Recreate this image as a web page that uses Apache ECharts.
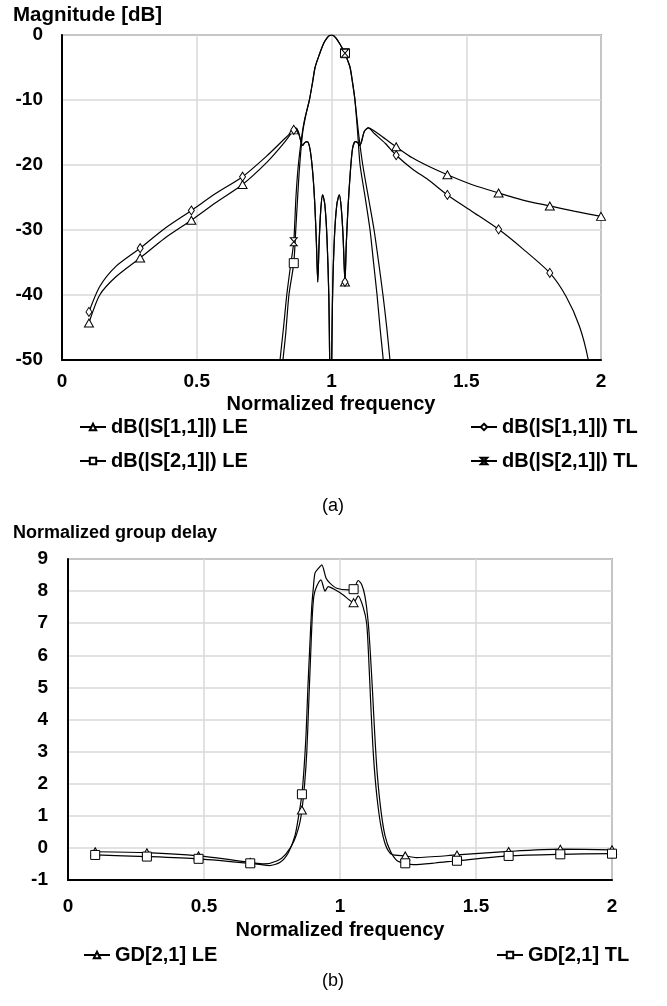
<!DOCTYPE html>
<html><head><meta charset="utf-8">
<script src="https://cdn.jsdelivr.net/npm/echarts@6/dist/echarts.min.js"></script>
<style>html,body{margin:0;padding:0;background:#fff}#c{width:667px;height:1006px}</style>
</head><body><div id="c"></div>
<script>
// ---------- data ----------
const markerF = [0.1,0.29,0.48,0.67,0.86,1.05,1.24,1.43,1.62,1.81,2.0];
const xTicks = [0,0.5,1,1.5,2];

// S11 (dB) pieces
const s11LeLeft = [[0.1,-44.3],[0.14,-40],[0.2,-37.2],[0.29,-34.3],[0.38,-31.3],[0.48,-28.5],[0.57,-25.8],[0.67,-23],[0.76,-19.6],[0.82,-16.8],[0.86,-14.6]];
const s11TlLeft = [[0.1,-42.6],[0.14,-38.7],[0.2,-35.6],[0.29,-32.8],[0.38,-29.8],[0.48,-27],[0.57,-24.4],[0.67,-21.8],[0.76,-18.6],[0.82,-16.2],[0.86,-14.6]];
const s11Band = [[0.867,-14.3],[0.876,-14.8],[0.886,-16.3],[0.893,-17.0],[0.9,-16.6],[0.91,-16.4],[0.92,-17.5],[0.93,-21],[0.938,-26],[0.944,-32],[0.949,-38],[0.954,-32],[0.96,-27],[0.967,-24.6],[0.975,-26],[0.983,-31],[0.99,-40],[0.997,-60],[1.004,-40],[1.011,-31],[1.02,-26],[1.029,-24.6],[1.036,-26.5],[1.043,-31],[1.05,-38],[1.055,-32],[1.062,-26],[1.07,-21],[1.078,-17.5],[1.088,-16.4],[1.098,-16.6],[1.105,-17.0],[1.112,-16.3],[1.122,-14.8],[1.137,-14.3]];
const s11LeRight = [[1.16,-14.8],[1.2,-16],[1.24,-17.2],[1.3,-18.9],[1.36,-20.2],[1.43,-21.5],[1.52,-23],[1.62,-24.3],[1.71,-25.4],[1.81,-26.3],[1.9,-27.1],[2.0,-27.9]];
const s11TlRight = [[1.16,-15.2],[1.2,-16.7],[1.24,-18.5],[1.3,-20.6],[1.36,-22.3],[1.43,-24.6],[1.52,-27.1],[1.62,-29.9],[1.71,-32.9],[1.81,-36.6],[1.87,-40.2],[1.92,-44.8],[1.953,-50],[1.97,-55]];

// S21 (dB)
const s21Le = [[0.81,-56],[0.82,-50],[0.83,-46],[0.842,-40],[0.86,-35.1],[0.868,-29.5],[0.875,-24.5],[0.882,-20],[0.893,-15],[0.905,-12.3],[0.918,-10],[0.93,-7.2],[0.939,-5],[0.955,-3],[0.972,-1.2],[0.985,-0.35],[0.993,-0.08],[1.0,0],[1.008,-0.1],[1.016,-0.45],[1.03,-1.3],[1.05,-2.8],[1.06,-3.9],[1.069,-5],[1.078,-7.3],[1.087,-10],[1.097,-15],[1.106,-20],[1.125,-25],[1.143,-30],[1.156,-35],[1.169,-40],[1.18,-45],[1.192,-50],[1.2,-55]];
const s21Tl = [[0.795,-56],[0.809,-50],[0.822,-45],[0.834,-40],[0.848,-35.5],[0.86,-31.8],[0.868,-25],[0.877,-20],[0.89,-15.5],[0.9,-13],[0.918,-10],[0.93,-7.2],[0.939,-5],[0.955,-3],[0.972,-1.2],[0.985,-0.35],[0.993,-0.08],[1.0,0],[1.008,-0.1],[1.016,-0.45],[1.03,-1.3],[1.05,-2.8],[1.06,-3.9],[1.069,-5],[1.078,-7.3],[1.087,-10],[1.1,-15],[1.116,-20],[1.137,-25],[1.158,-30],[1.175,-35],[1.191,-40],[1.205,-45],[1.217,-50],[1.23,-55]];

// Group delay
const gdLe = [[0.1,-0.12],[0.29,-0.15],[0.48,-0.25],[0.67,-0.45],[0.72,-0.5],[0.77,-0.4],[0.8,-0.2],[0.83,0.2],[0.85,0.7],[0.86,1.18],[0.87,2.0],[0.878,3.0],[0.885,4.5],[0.892,6.0],[0.898,7.2],[0.904,7.85],[0.914,8.14],[0.93,8.35],[0.945,8.0],[0.957,8.14],[0.982,8.04],[1.012,7.88],[1.03,7.75],[1.05,7.64],[1.067,7.85],[1.085,7.5],[1.098,7.0],[1.105,6.0],[1.113,4.5],[1.12,3.3],[1.127,2.4],[1.137,1.5],[1.15,0.7],[1.167,0.1],[1.19,-0.2],[1.24,-0.25],[1.28,-0.3],[1.43,-0.22],[1.62,-0.11],[1.81,-0.04],[2.0,-0.06]];
const gdTl = [[0.1,-0.22],[0.29,-0.27],[0.48,-0.34],[0.67,-0.48],[0.74,-0.55],[0.78,-0.45],[0.81,-0.15],[0.835,0.4],[0.85,1.1],[0.86,1.67],[0.868,2.5],[0.875,3.5],[0.882,5.0],[0.889,6.3],[0.896,7.5],[0.902,8.1],[0.908,8.56],[0.92,8.7],[0.933,8.82],[0.949,8.4],[0.963,8.25],[0.988,8.09],[1.031,8.04],[1.05,8.06],[1.067,8.33],[1.08,8.2],[1.092,7.83],[1.104,7.0],[1.112,6.0],[1.12,4.8],[1.128,3.5],[1.137,2.3],[1.15,1.2],[1.165,0.4],[1.185,-0.1],[1.21,-0.4],[1.24,-0.48],[1.27,-0.52],[1.35,-0.47],[1.43,-0.4],[1.62,-0.25],[1.81,-0.2],[2.0,-0.18]];

const names = ['dB(|S[1,1]|) LE','dB(|S[1,1]|) TL','dB(|S[2,1]|) LE','dB(|S[2,1]|) TL','GD[2,1] LE','GD[2,1] TL'];

// ---------- chart ----------
const FONT = 'Liberation Sans, Arial, sans-serif';
const HOUR = 'path://M0,0L10,0L0,10L10,10Z';
function items(arr){ return arr.map(p => markerF.includes(p[0]) ? {value:p} : {value:p, symbol:'none'}); }
function ser(name, arr, symbol, size, g){
  return {name, type:'line', xAxisIndex:g, yAxisIndex:g, data:items(arr), symbol, symbolSize:size,
    showSymbol:true, smooth:0.25, clip:true, z:3,
    lineStyle:{color:'#000', width:1.2}, itemStyle:{color:'#fff', borderColor:'#000', borderWidth:1},
    emphasis:{disabled:true}, animation:false};
}
function xAx(g){ return {gridIndex:g, type:'value', min:0, max:2, interval:0.5,
  axisLine:{onZero:false, lineStyle:{color:'#000', width:2}}, axisTick:{show:false},
  splitLine:{lineStyle:{color:'#d9d9d9', width:1.5}},
  axisLabel:{color:'#000', fontWeight:'bold', fontSize:19, fontFamily:FONT, margin: g===0?12:17}}; }
function yAx(g, min, max, iv){ return {gridIndex:g, type:'value', min, max, interval:iv,
  axisLine:{show:true, onZero:false, lineStyle:{color:'#000', width:2}}, axisTick:{show:false},
  splitLine:{lineStyle:{color:'#d9d9d9', width:1.5}},
  axisLabel:{color:'#000', fontWeight:'bold', fontSize:19, fontFamily:FONT, margin: g===0?19:20}}; }
const txt = (text, x, y, size, bold, align) => ({type:'text', x, y, style:{text, fill:'#000',
  font:(bold?'bold ':'')+size+'px '+FONT, textAlign:align||'left', textVerticalAlign:'middle'}});
const leg = (name, left, top) => ({data:[name], left, top, padding:0, itemWidth:26, itemHeight:8,
  textStyle:{color:'#000', fontWeight:'bold', fontSize:20, fontFamily:FONT}, selectedMode:false});

const chart = echarts.init(document.getElementById('c'), null, {renderer:'canvas'});
chart.setOption({
  animation:false, backgroundColor:'#fff',
  grid:[
    {left:62, top:35, width:539, height:325, show:true, borderColor:'#666', borderWidth:1.5, backgroundColor:'#fff'},
    {left:68, top:559, width:544, height:321, show:true, borderColor:'#666', borderWidth:1.5, backgroundColor:'#fff'}
  ],
  xAxis:[xAx(0), xAx(1)],
  yAxis:[yAx(0,-50,0,10), yAx(1,-1,9,1)],
  legend:[
    leg(names[0], 79, 417), leg(names[1], 470, 417),
    leg(names[2], 79, 451), leg(names[3], 470, 451),
    leg(names[4], 83, 945), leg(names[5], 496, 945)
  ],
  graphic:[
    txt('Magnitude [dB]', 13, 15, 20.5, true),
    txt('Normalized frequency', 331, 404, 20, true, 'center'),
    txt('(a)', 333, 506, 18, false, 'center'),
    txt('Normalized group delay', 13, 533, 18, true),
    txt('Normalized frequency', 340, 930, 20, true, 'center'),
    txt('(b)', 333, 981, 18, false, 'center')
  ],
  series:[
    ser(names[0], s11LeLeft.concat(s11Band, s11LeRight), 'triangle', [9,8], 0),
    ser(names[1], s11TlLeft.concat(s11Band, s11TlRight), 'diamond', [6,9], 0),
    ser(names[2], s21Le, 'rect', 9, 0),
    ser(names[3], s21Tl, HOUR, [7,8], 0),
    ser(names[4], gdLe, 'triangle', [9,8], 1),
    ser(names[5], gdTl, 'rect', 9, 1)
  ]
});
</script></body></html>
